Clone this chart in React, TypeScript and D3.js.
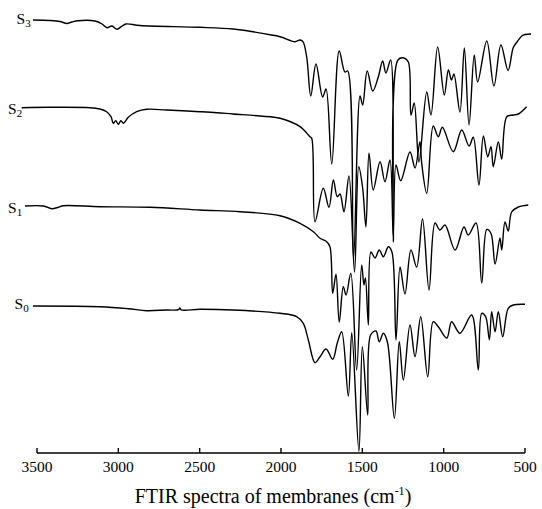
import React from 'react';
import * as d3 from 'd3';

type P = [number, number];

// wavenumber (cm-1), intensity (a.u., stacked)
const S3: P[] = [
  [3525, 433], [3420, 432.5], [3359, 431.5], [3316, 429.5], [3285, 431], [3248, 432.3],
  [3143, 432], [3100, 429], [3070, 425.3], [3039, 427], [3008, 423.7], [2977, 427],
  [2953, 429], [2867, 427.5], [2498, 425.7], [2295, 424], [2172, 421.3], [2086, 418.7],
  [2006, 416.3], [1914, 411.3], [1883, 413], [1865, 411.3], [1842, 396], [1817, 357],
  [1785, 389], [1744, 356], [1723, 364], [1688, 289], [1642, 402], [1607, 381],
  [1590, 382], [1554, 195], [1514, 357], [1498, 348], [1470, 382], [1436, 362],
  [1402, 376], [1375, 392], [1355, 380], [1326, 393], [1310, 211], [1281, 393],
  [1244, 395], [1217, 391], [1201, 338], [1181, 350], [1152, 291], [1104, 361],
  [1078, 338], [1037, 406], [996, 358], [971, 383], [952, 373], [937, 379], [900, 341],
  [873, 405], [844, 328], [812, 398], [791, 371], [735, 412], [691, 367], [648, 408],
  [604, 382.5], [572, 405.5], [549, 411], [520, 417], [500, 418.5], [463, 419],
];

const S2: P[] = [
  [3594, 345.3], [3420, 345.7], [3174, 345.3], [3113, 344], [3072, 341.3], [3045, 336.3],
  [3031, 329.7], [3016, 332.3], [3000, 328.7], [2984, 332.3], [2969, 329.7], [2939, 335.7],
  [2887, 341.3], [2826, 343.7], [2703, 343], [2498, 341.3], [2395, 340.3], [2295, 339],
  [2129, 337], [2006, 334.7], [1883, 326.3], [1822, 316.3], [1811, 314.7], [1791, 231.3],
  [1740, 264.7], [1705, 245.7], [1678, 273], [1654, 256.3], [1637, 259], [1613, 241.3],
  [1582, 277], [1548, 181], [1522, 286.3], [1498, 265], [1478, 226], [1459, 300],
  [1433, 263], [1391, 291.3], [1361, 271.3], [1330, 293], [1310, 218], [1293, 288],
  [1264, 272.3], [1207, 301], [1176, 285], [1146, 311.3], [1135, 289.7], [1104, 259.7],
  [1064, 327], [1033, 316.3], [1008, 325.7], [941, 301.3], [889, 323], [844, 307],
  [818, 315.7], [783, 268], [756, 317], [729, 296.3], [709, 306.3], [695, 286.3],
  [664, 311], [643, 294], [612, 336.3], [572, 338], [541, 339], [490, 346.3],
];

const S1: P[] = [
  [3574, 247], [3461, 247], [3410, 244.3], [3369, 245.7], [3338, 247.3], [3113, 246.3],
  [2805, 245.7], [2498, 243], [2252, 241.3], [2006, 237.3], [1883, 229.7], [1801, 221.3],
  [1760, 214.7], [1719, 211.3], [1699, 206.3], [1682, 159.7], [1662, 178.7], [1642, 131],
  [1617, 166.3], [1600, 158], [1571, 179.7], [1535, 83], [1504, 188], [1490, 168],
  [1481, 175], [1463, 128], [1447, 201], [1422, 195], [1396, 203], [1371, 196.3],
  [1340, 206.3], [1318, 201], [1293, 113], [1268, 186], [1238, 159], [1201, 203],
  [1166, 186], [1130, 234], [1090, 163], [1053, 230], [1023, 223], [992, 228], [930, 203],
  [875, 226], [849, 218], [801, 230], [766, 170], [735, 223.5], [709, 219.5], [684, 189],
  [654, 215], [643, 203], [623, 231], [603, 222], [582, 241], [541, 246], [480, 248],
];

const S0: P[] = [
  [3525, 147], [3113, 146.3], [2939, 144.3], [2826, 142.3], [2703, 143], [2630, 143.3],
  [2622, 145], [2614, 143.2], [2498, 143.7], [2295, 143], [2006, 139.7], [1904, 136.3],
  [1863, 129.7], [1832, 113], [1791, 90.3], [1760, 96.3], [1723, 104], [1682, 93.7],
  [1654, 110], [1627, 121.3], [1586, 57], [1565, 120.3], [1521, 1.5], [1500, 106.3],
  [1467, 38], [1449, 118], [1416, 122], [1396, 111.3], [1371, 119.7], [1346, 111],
  [1303, 34.7], [1273, 111.3], [1248, 73], [1207, 128], [1176, 96.3], [1141, 136.3],
  [1098, 76.3], [1064, 131.3], [1033, 126.3], [981, 115], [951, 131.3], [900, 119.7],
  [828, 138], [787, 83], [766, 139.7], [742, 136.3], [719, 113.3], [705, 141.3],
  [684, 121.3], [664, 141.3], [637, 116.3], [603, 144.7], [572, 148], [500, 148.7],
];

const series: { name: string; sub: string; data: P[] }[] = [
  { name: 'S', sub: '3', data: S3 },
  { name: 'S', sub: '2', data: S2 },
  { name: 'S', sub: '1', data: S1 },
  { name: 'S', sub: '0', data: S0 },
];

const xTicks = [3500, 3000, 2500, 2000, 1500, 1000, 500];
const xTitle = 'FTIR spectra of membranes (cm';

const W = 542;
const H = 509;
const FONT = '"Liberation Serif", "Times New Roman", Times, serif';

export default function App() {
  const x = d3.scaleLinear().domain([3500, 500]).range([37, 525]);
  const y = d3.scaleLinear().domain([0, 450]).range([453, 3]);
  const line = d3
    .line<P>()
    .x((d) => x(d[0]))
    .y((d) => y(d[1]))
    .curve(d3.curveCatmullRom.alpha(0.5));

  const labelPos = [
    { x: 16.5, y: 23.5 },
    { x: 8, y: 113.5 },
    { x: 8, y: 212.5 },
    { x: 14.5, y: 308.5 },
  ];

  const axisY = y(0);
  const ts = { fontFamily: FONT };

  return (
    <svg
      width={W}
      height={H}
      viewBox={`0 0 ${W} ${H}`}
      style={{ position: 'absolute', left: 0, top: 0, display: 'block', background: '#fff' }}
    >
      <rect x={0} y={0} width={W} height={H} fill="#fff" />
      {series.map((s, i) => (
        <g key={i}>
          <path d={line(s.data) || ''} fill="none" stroke="#000" strokeWidth={1.4} strokeLinejoin="round" />
          <text x={labelPos[i].x} y={labelPos[i].y} fontSize={15.5} fill="#000" style={ts}>
            {s.name}
            <tspan fontSize={11} dy={3.5}>{s.sub}</tspan>
          </text>
        </g>
      ))}
      <line x1={x(3500)} x2={x(500)} y1={axisY} y2={axisY} stroke="#000" strokeWidth={1.6} />
      {xTicks.map((t) => (
        <g key={t}>
          <line x1={x(t)} x2={x(t)} y1={axisY} y2={axisY - 5} stroke="#000" strokeWidth={1.4} />
          <text x={x(t)} y={axisY + 18.5} fontSize={15.5} textAnchor="middle" fill="#000" style={ts}>
            {t}
          </text>
        </g>
      ))}
      <text x={273} y={502.5} fontSize={20} textAnchor="middle" fill="#000" style={ts}>
        {xTitle}
        <tspan fontSize={12} dy={-8}>-1</tspan>
        <tspan fontSize={20} dy={8}>)</tspan>
      </text>
    </svg>
  );
}
